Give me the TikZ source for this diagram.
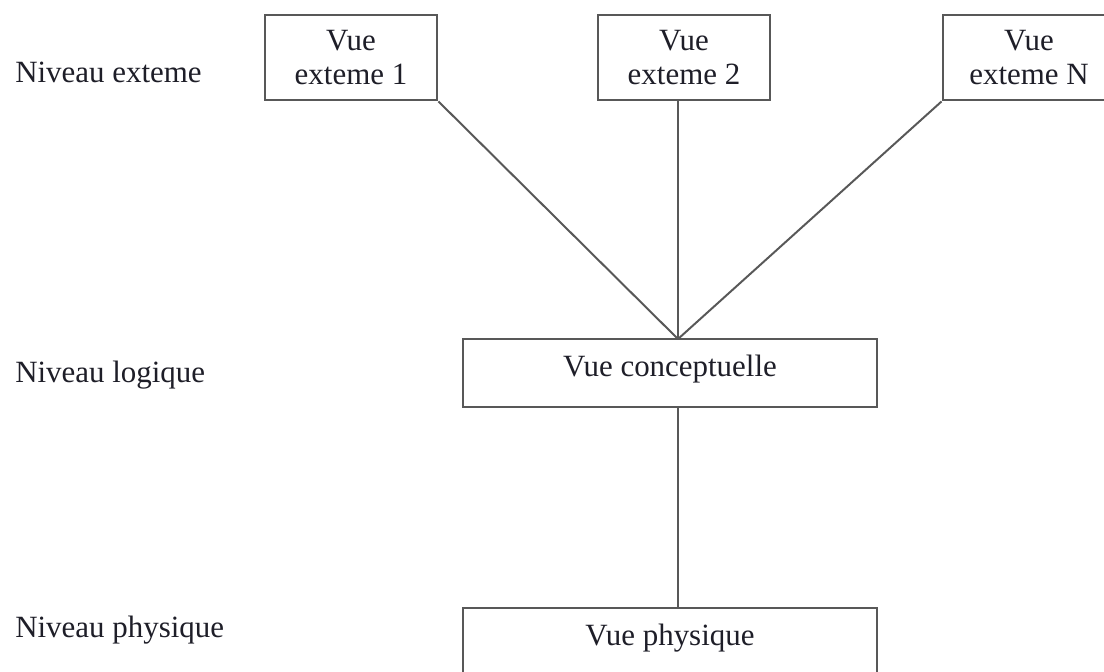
\documentclass[tikz,border=0pt]{standalone}
\usepackage{fontspec}
\setmainfont{Liberation Serif}
\definecolor{linegray}{RGB}{88,88,88}
\definecolor{textdark}{RGB}{30,30,40}
\tikzset{
	vue/.style={draw=linegray,line width=2pt,rectangle,align=center,inner sep=0pt,text=textdark},
	extvue/.style={vue,minimum width=4.3cm,minimum height=2.125cm},
	largevue/.style={vue,minimum width=10.35cm,minimum height=1.7cm,text height=15pt,text depth=10pt},
	niveau/.style={anchor=west,inner sep=0pt,text=textdark},
	lien/.style={draw=linegray,line width=1.4pt}
}

\begin{document}
\begin{tikzpicture}[x=0.025cm,y=-0.025cm,font=\fontsize{22}{24}\selectfont]
            \useasboundingbox (0,0) rectangle (1104,671);
            \clip (0,0) rectangle (1104,671);
            \fill[white] (0,0) rectangle (1104,671);
            \node[niveau] (next) at (15,72) {Niveau exteme};
            \node[niveau] (nlog) at (15,375) {Niveau logique};
            \node[niveau] (nphy) at (15,630) {Niveau physique};
            \node[extvue] (ext1) at (351,57.5) {Vue\\exteme 1};
            \node[extvue] (ext2) at (684,57.5) {Vue\\exteme 2};
            \node[extvue] (extn) at (1029,57.5) {Vue\\exteme N};
            \node[largevue] (concept) at (670,373) {Vue conceptuelle};
            \node[largevue] (phys) at (670,642) {Vue physique};
            \coordinate (hub) at (678,339);
            \draw[lien] (ext1.south east) -- (hub);
            \draw[lien] (ext2.south -| hub) -- (hub);
            \draw[lien] (extn.south west) -- (hub);
            \draw[lien] (hub |- concept.south) -- (hub |- phys.north);
        \end{tikzpicture}
\end{document}
